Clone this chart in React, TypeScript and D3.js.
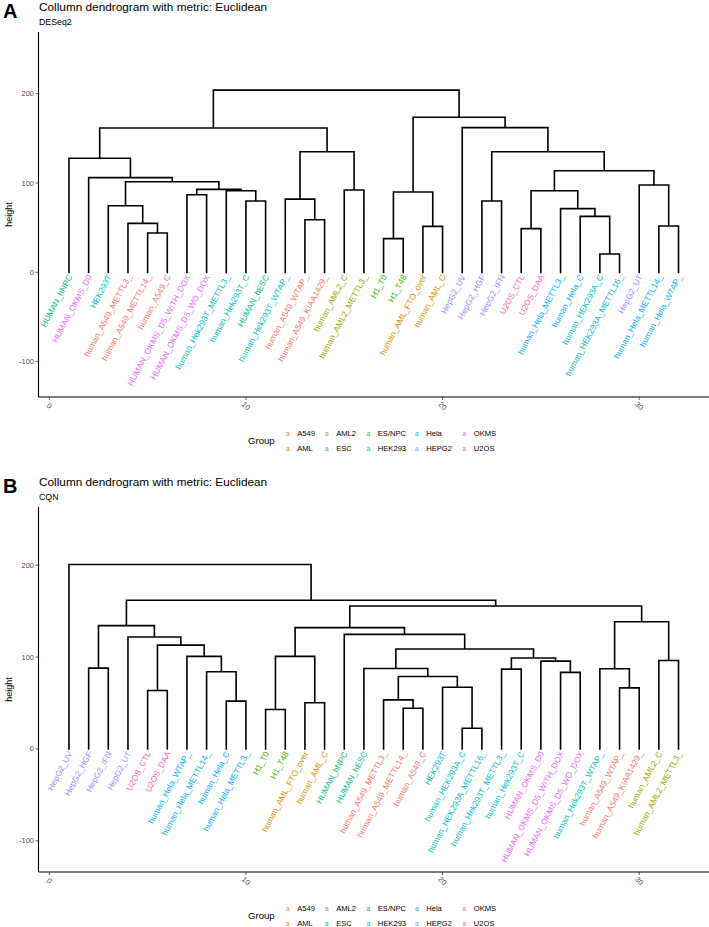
import React from "react";
import * as d3 from "d3";

// ---------- data ----------
const groupNames = ["A549", "AML", "AML2", "ESC", "ES/NPC", "HEK293", "Hela", "HEPG2", "OKMS", "U2OS"];
const groupColors = ["#F8766D", "#D89000", "#A3A500", "#39B600", "#00BF7D", "#00BFC4", "#00B0F6", "#9590FF", "#E76BF3", "#FF62BC"];

const xTicks = [0, 10, 20, 30];
const yTicks = [-100, 0, 100, 200];

// Panel A (DESeq2) leaves in dendrogram order
const leavesA = [
  "HUMAN_hNPC", "HUMAN_OKMS_D0", "HEK293T", "human_A549_METTL3_", "human_A549_METTL14_", "human_A549_C",
  "HUMAN_OKMS_D5_WITH_DOX", "HUMAN_OKMS_D5_WO_DOX", "human_Hek293T_METTL3_", "human_Hek293T_C", "HUMAN_hESC",
  "human_Hek293T_WTAP_", "human_A549_WTAP_", "human_A549_KIAA1429_", "human_AML2_C", "human_AML2_METTL3_",
  "H1_T0", "H1_T48", "human_AML_FTO_over", "human_AML_C", "HepG2_UV", "HepG2_HGF", "HepG2_IFN",
  "U2OS_CTL", "U2OS_DAA", "human_Hela_METTL3_", "human_Hela_C", "human_HEK293A_C", "human_HEK293A_METTL16_",
  "HepG2_UT", "human_Hela_METTL14_", "human_Hela_WTAP_",
];
const groupsA = [
  "ES/NPC", "OKMS", "HEK293", "A549", "A549", "A549", "OKMS", "OKMS", "HEK293", "HEK293", "ES/NPC",
  "HEK293", "A549", "A549", "AML2", "AML2", "ESC", "ESC", "AML", "AML", "HEPG2", "HEPG2", "HEPG2",
  "U2OS", "U2OS", "Hela", "Hela", "HEK293", "HEK293", "HEPG2", "Hela", "Hela",
];
// hclust-style merges: negative = leaf position, positive = earlier merge row; third = height
const mergeA: [number, number, number][] = [
  [-28, -29, 20.5], [-17, -18, 37.7], [-5, -6, 44], [-24, -25, 48.9], [-19, -20, 51.5], [-31, -32, 51.8],
  [-4, 3, 54.8], [-13, -14, 58.9], [-27, 1, 62.7], [-26, 9, 71.3], [-3, 7, 74.6], [-10, -11, 79.8],
  [-22, -23, 79.8], [-12, 8, 82], [-7, -8, 86.9], [2, 5, 90], [-9, 12, 91.4], [4, 10, 91.4],
  [-15, -16, 92.2], [15, 17, 92.9], [-30, 6, 97.8], [11, 20, 101.5], [-2, 22, 106], [18, 21, 113.8],
  [-1, 23, 127.7], [14, 19, 135], [13, 24, 135], [25, 26, 161.6], [-21, 27, 162], [16, 29, 173.6],
  [28, 30, 204],
];

// Panel B (CQN)
const leavesB = [
  "HepG2_UV", "HepG2_HGF", "HepG2_IFN", "HepG2_UT", "U2OS_CTL", "U2OS_DAA", "human_Hela_WTAP_",
  "human_Hela_METTL14_", "human_Hela_C", "human_Hela_METTL3_", "H1_T0", "H1_T48", "human_AML_FTO_over",
  "human_AML_C", "HUMAN_hNPC", "HUMAN_hESC", "human_A549_METTL3_", "human_A549_METTL14_", "human_A549_C",
  "HEK293T", "human_HEK293A_C", "human_HEK293A_METTL16_", "human_Hek293T_METTL3_", "human_Hek293T_C",
  "HUMAN_OKMS_D0", "HUMAN_OKMS_D5_WITH_DOX", "HUMAN_OKMS_D5_WO_DOX", "human_Hek293T_WTAP_",
  "human_A549_WTAP_", "human_A549_KIAA1429_", "human_AML2_C", "human_AML2_METTL3_",
];
const groupsB = [
  "HEPG2", "HEPG2", "HEPG2", "HEPG2", "U2OS", "U2OS", "Hela", "Hela", "Hela", "Hela", "ESC", "ESC",
  "AML", "AML", "ES/NPC", "ES/NPC", "A549", "A549", "A549", "HEK293", "HEK293", "HEK293", "HEK293",
  "HEK293", "OKMS", "OKMS", "OKMS", "HEK293", "A549", "A549", "AML2", "AML2",
];
const mergeB: [number, number, number][] = [
  [-21, -22, 22.5], [-11, -12, 42.9], [-18, -19, 44.3], [-13, -14, 50.2], [-9, -10, 52], [-17, 3, 53.4],
  [-5, -6, 63.6], [-29, -30, 66.5], [-20, 1, 67.2], [6, 9, 78.9], [-26, -27, 83.3], [-8, 5, 84],
  [-23, -24, 86.9], [-28, 8, 87.3], [-16, 10, 87.6], [-2, -3, 88], [-25, 11, 95.6], [-31, -32, 96.3],
  [13, 17, 98.9], [-7, 12, 100.7], [2, 4, 100.7], [15, 19, 108.7], [7, 20, 113], [-4, 23, 121.8],
  [-15, 22, 124.7], [21, 25, 132], [16, 24, 134.2], [14, 18, 138.5], [26, 28, 155.6], [27, 29, 161.8],
  [-1, 30, 200.8],
];

// ---------- helpers ----------
const FONT = "'Liberation Sans', Arial, Helvetica, sans-serif";
const colorOf = d3.scaleOrdinal<string, string>().domain(groupNames).range(groupColors);

function dendroSegments(merge: [number, number, number][]) {
  const nx: number[] = [];
  const nh: number[] = [];
  const gx = (id: number) => (id < 0 ? -id : nx[id - 1]);
  const gh = (id: number) => (id < 0 ? 0 : nh[id - 1]);
  const segs: [number, number, number, number][] = [];
  merge.forEach(([a, b, h], i) => {
    const xa = gx(a), xb = gx(b);
    nx[i] = (xa + xb) / 2;
    nh[i] = h;
    segs.push([xa, gh(a), xa, h], [xb, gh(b), xb, h], [xa, h, xb, h]);
  });
  return segs;
}

type PanelProps = {
  off: number;
  letter: string;
  subtitle: string;
  leaves: string[];
  groups: string[];
  merge: [number, number, number][];
  yDomain: [number, number];
};

const LEFT = 38.5, RIGHT = 709, TOP = 32, BOTTOM = 397;
const legendCols = [287.7, 326.7, 368.3, 416.7, 464.3];

function Panel({ off, letter, subtitle, leaves, groups, merge, yDomain }: PanelProps) {
  const x = d3.scaleLinear().domain([-0.55, 33.55]).range([LEFT, RIGHT]);
  const y = d3.scaleLinear().domain(yDomain).range([BOTTOM + off, TOP + off]);
  const segs = dendroSegments(merge);
  const path = d3.path();
  segs.forEach(([x1, y1, x2, y2]) => {
    path.moveTo(x(x1), y(y1));
    path.lineTo(x(x2), y(y2));
  });
  const y0 = y(0);
  return (
    <g>
      <text x={3} y={17.5 + off} fontSize={20} fontWeight="bold" fontFamily={FONT}>{letter}</text>
      <text x={39} y={11 + off} fontSize={11.8} fontFamily={FONT}>Collumn dendrogram with metric: Euclidean</text>
      <text x={39} y={25 + off} fontSize={8.8} fontFamily={FONT}>{subtitle}</text>

      {/* axes */}
      <line x1={LEFT} x2={LEFT} y1={TOP + off} y2={BOTTOM + off} stroke="#000" strokeWidth={1.1} />
      <line x1={LEFT} x2={RIGHT} y1={BOTTOM + off} y2={BOTTOM + off} stroke="#000" strokeWidth={1.1} />
      {yTicks.map((t) => (
        <g key={"y" + t}>
          <line x1={LEFT - 3} x2={LEFT} y1={y(t)} y2={y(t)} stroke="#333" strokeWidth={0.8} />
          <text x={LEFT - 4.5} y={y(t)} textAnchor="end" dominantBaseline="central" fontSize={7.5} fill="#4d4d4d" fontFamily={FONT}>{t}</text>
        </g>
      ))}
      {xTicks.map((t) => (
        <g key={"x" + t}>
          <line x1={x(t)} x2={x(t)} y1={BOTTOM + off} y2={BOTTOM + off + 3} stroke="#333" strokeWidth={0.8} />
          <text transform={`translate(${x(t)},${BOTTOM + off + 9}) rotate(45)`} textAnchor="middle" dominantBaseline="central" fontSize={7.5} fill="#4d4d4d" fontFamily={FONT}>{t}</text>
        </g>
      ))}
      <text transform={`translate(9,${(TOP + BOTTOM) / 2 + off}) rotate(-90)`} textAnchor="middle" dominantBaseline="central" fontSize={9} fontFamily={FONT}>height</text>

      {/* dendrogram */}
      <path d={path.toString()} stroke="#000" strokeWidth={1.6} fill="none" strokeLinecap="square" />

      {/* leaf labels */}
      {leaves.map((lab, i) => (
        <text key={lab + i} transform={`translate(${x(i + 1) + 1},${y0 + 3}) rotate(-62)`} textAnchor="end" dominantBaseline="central"
          fontSize={8.4} fill={colorOf(groups[i])} fontFamily={FONT}>{lab}</text>
      ))}

      {/* legend */}
      <text x={248} y={440.5 + off} dominantBaseline="central" fontSize={9.6} fontFamily={FONT}>Group</text>
      {groupNames.map((g, i) => {
        const col = Math.floor(i / 2), row = i % 2;
        const kx = legendCols[col];
        const ky = 433 + row * 15 + off;
        return (
          <g key={g}>
            <text x={kx} y={ky} textAnchor="middle" dominantBaseline="central" fontSize={6.5} fill={colorOf(g)} fontFamily={FONT}>a</text>
            <text x={kx + 9.5} y={ky} dominantBaseline="central" fontSize={7.6} fontFamily={FONT}>{g}</text>
          </g>
        );
      })}
    </g>
  );
}

export default function App() {
  return (
    <svg width={709} height={927} style={{ position: "absolute", left: 0, top: 0, background: "#fff" }}>
      <rect width={709} height={927} fill="#fff" />
      <Panel off={0} letter="A" subtitle="DESeq2" leaves={leavesA} groups={groupsA} merge={mergeA} yDomain={[-139.6, 269.1]} />
      <Panel off={475} letter="B" subtitle="CQN" leaves={leavesB} groups={groupsB} merge={mergeB} yDomain={[-133.9, 263.3]} />
    </svg>
  );
}
